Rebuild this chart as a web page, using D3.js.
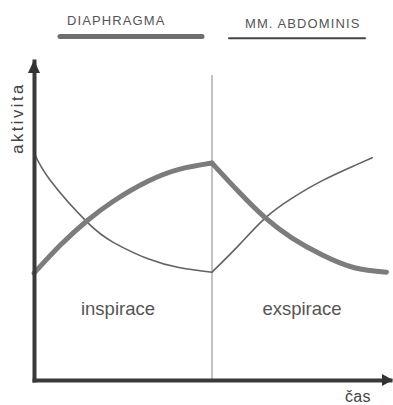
<!DOCTYPE html>
<html>
<head>
<meta charset="utf-8">
<script src="https://cdn.jsdelivr.net/npm/d3@7"></script>
<style>
body { margin: 0; background: #fff; }
text { font-family: "Liberation Sans", Arial, sans-serif; }
</style>
</head>
<body>
<div id="chart"></div>
<script>
"use strict";
//time 0..1 = inspirace, 1..2 = exspirace, activity in arbitrary units 0..10
var phases = ["inspirace", "exspirace"];
var muscles = ["DIAPHRAGMA", "MM. ABDOMINIS"];

var diaphragmTime = [0, 0.15, 0.3, 0.45, 0.64, 0.82, 1, 1.15, 1.3, 1.45, 1.62, 1.8, 1.98];
var diaphragmValue = [3.35, 4.24, 5.0, 5.62, 6.23, 6.61, 6.8, 5.9, 5.08, 4.45, 3.92, 3.52, 3.38];

var abdominisTime = [0, 0.09, 0.3, 0.45, 0.64, 0.82, 1, 1.15, 1.3, 1.45, 1.62, 1.8, 1.9];
var abdominisValue = [7.13, 6.27, 4.94, 4.3, 3.8, 3.52, 3.38, 4.22, 5.08, 5.7, 6.25, 6.72, 6.97];

var w = 393,
  h = 405;

var svg = d3
  .select("#chart")
  .append("svg")
  .attr("width", w)
  .attr("height", h);

var x = d3.scaleLinear().domain([0, 2]).range([34, 390]);
var y = d3.scaleLinear().domain([0, 10]).range([380, 61]);

//legend bars on top
var legend = [
  { name: muscles[0], x1: 60, x2: 202, ly: 36.5, tx: 67, ty: 25, width: 5, color: "#6e6e6e" },
  { name: muscles[1], x1: 229, x2: 365, ly: 38.3, tx: 245, ty: 28, width: 2, color: "#444" }
];

legend.forEach(function(d) {
  svg
    .append("line")
    .attr("x1", d.x1)
    .attr("x2", d.x2)
    .attr("y1", d.ly)
    .attr("y2", d.ly)
    .attr("stroke", d.color)
    .attr("stroke-width", d.width)
    .attr("stroke-linecap", "round");
  svg
    .append("text")
    .attr("x", d.tx)
    .attr("y", d.ty)
    .attr("font-size", 13)
    .attr("letter-spacing", 1.1)
    .attr("fill", "#555")
    .text(d.name);
});

//divider between phases
svg
  .append("line")
  .attr("x1", x(1))
  .attr("x2", x(1))
  .attr("y1", 75)
  .attr("y2", y(0))
  .attr("stroke", "#999")
  .attr("stroke-width", 1.2);

//phase labels
svg
  .selectAll(".phase")
  .data(phases)
  .enter()
  .append("text")
  .attr("class", "phase")
  .attr("x", function(d, i) {
    return x(i + 0.5) + (i == 0 ? -5 : 1);
  })
  .attr("y", 315)
  .attr("text-anchor", "middle")
  .attr("font-size", 18.5)
  .attr("fill", "#555")
  .text(function(d) {
    return d;
  });

//curves, each phase drawn separately so the switch at t=1 stays sharp
var line = d3
  .line()
  .x(function(d) {
    return x(d.t);
  })
  .y(function(d) {
    return y(d.v);
  })
  .curve(d3.curveNatural);

function toPoints(ts, vs) {
  return ts.map(function(t, i) {
    return { t: t, v: vs[i] };
  });
}

var series = [
  { pts: toPoints(abdominisTime, abdominisValue), width: 1.6, color: "#626262" },
  { pts: toPoints(diaphragmTime, diaphragmValue), width: 5, color: "#7c7c7c" }
];

series.forEach(function(s) {
  [[0, 1], [1, 2]].forEach(function(p) {
    var seg = s.pts.filter(function(d) {
      return d.t >= p[0] && d.t <= p[1];
    });
    svg
      .append("path")
      .attr("d", line(seg))
      .attr("fill", "none")
      .attr("stroke", s.color)
      .attr("stroke-width", s.width)
      .attr("stroke-linecap", "round")
      .attr("stroke-linejoin", "round");
  });
});

//axes without ticks, only thick lines with arrows
var xAxis = svg
  .append("g")
  .attr("transform", "translate(0," + y(0) + ")")
  .call(d3.axisBottom(x).tickValues([]).tickSizeOuter(0));
var yAxis = svg
  .append("g")
  .attr("transform", "translate(" + x(0) + ",0)")
  .call(d3.axisLeft(y).tickValues([]).tickSizeOuter(0));

[xAxis, yAxis].forEach(function(a) {
  a.select(".domain")
    .attr("stroke", "#3a3a3a")
    .attr("stroke-width", 4)
    .attr("stroke-linecap", "square");
});

svg
  .append("path")
  .attr("d", "M" + (x(2) + 3) + "," + y(0) + "L" + (x(2) - 8) + "," + (y(0) - 6) + "L" + (x(2) - 8) + "," + (y(0) + 6) + "Z")
  .attr("fill", "#333");
svg
  .append("path")
  .attr("d", "M" + x(0) + "," + (y(10) - 1) + "L" + (x(0) - 6) + "," + (y(10) + 12) + "L" + (x(0) + 6) + "," + (y(10) + 12) + "Z")
  .attr("fill", "#333");

//axis titles
svg
  .append("text")
  .attr("transform", "translate(23,118) rotate(-90)")
  .attr("text-anchor", "middle")
  .attr("font-size", 16.5)
  .attr("letter-spacing", 2.5)
  .attr("fill", "#444")
  .text("aktivita");

svg
  .append("text")
  .attr("x", 345)
  .attr("y", 402)
  .attr("font-size", 16)
  .attr("letter-spacing", 0.3)
  .attr("fill", "#444")
  .text("čas");
</script>
</body>
</html>
